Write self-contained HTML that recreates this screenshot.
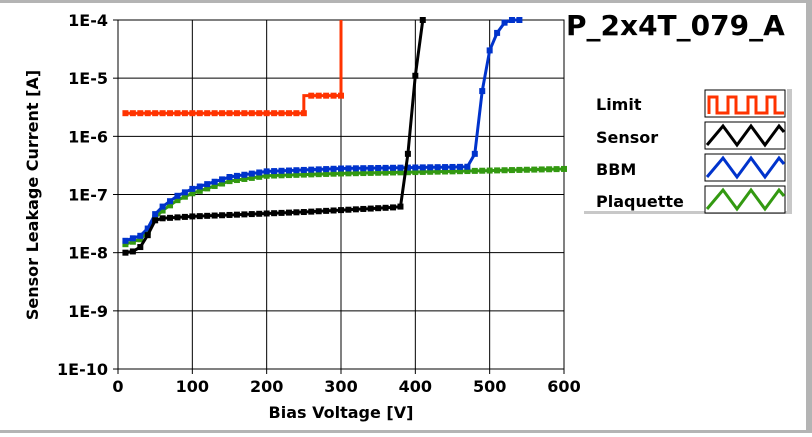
<!DOCTYPE html>
<html><head><meta charset="utf-8"><style>
body{margin:0;background:#fff;width:812px;height:433px;overflow:hidden;font-family:"DejaVu Sans",sans-serif}
</style></head><body>
<svg id="s" width="812" height="433" xmlns="http://www.w3.org/2000/svg" font-family="DejaVu Sans, sans-serif" font-weight="bold">
<rect x="0" y="0" width="812" height="433" fill="#fff"/>
<rect x="0" y="0" width="812" height="3" fill="#b4b4b4"/>
<rect x="0" y="430" width="812" height="3" fill="#b4b4b4"/>
<rect x="806" y="0" width="6" height="433" fill="#b4b4b4"/>
<rect x="118" y="20" width="446" height="349" fill="#fff" stroke="#000" stroke-width="1"/>
<g id="grid" stroke="#000" stroke-width="1"></g>
<g id="lbl" font-size="16" fill="#000"></g>
<g id="data"></g>
<text x="341" y="418" font-size="16" text-anchor="middle">Bias Voltage [V]</text>
<text transform="translate(38,195) rotate(-90)" font-size="16" text-anchor="middle">Sensor Leakage Current [A]</text>
<text x="566" y="35" font-size="28">P_2x4T_079_A</text>
<rect x="787" y="89" width="5" height="125" fill="#c8c8c8"/>
<rect x="584" y="211" width="204" height="3" fill="#c8c8c8"/>
<g font-size="16">
<text x="596" y="110">Limit</text>
<text x="596" y="143">Sensor</text>
<text x="596" y="175">BBM</text>
<text x="596" y="207">Plaquette</text>
</g>
<g stroke-width="3" fill="none">
<rect x="705" y="90" width="80" height="27" fill="#fff" stroke="#000" stroke-width="1"/>
<path d="M709,114V97H717V113H728V97H736V113H748V97H756V113H767V97H775V113H784" stroke="#ff3300"/>
<rect x="705" y="122" width="80" height="27" fill="#fff" stroke="#000" stroke-width="1"/>
<path d="M707,145L723,126L737,145L751,126L765,145L779,126L784,132" stroke="#000"/>
<rect x="705" y="154" width="80" height="27" fill="#fff" stroke="#000" stroke-width="1"/>
<path d="M707,177L723,158L737,177L751,158L765,177L779,158L784,164" stroke="#0033cc"/>
<rect x="705" y="186" width="80" height="27" fill="#fff" stroke="#000" stroke-width="1"/>
<path d="M707,209L723,190L737,209L751,190L765,209L779,190L784,196" stroke="#339911"/>
</g>
</svg>
<script>
var X=v=>118+v*446/600, Y=i=>20+58.17*(-4-Math.log10(i));
var g=document.getElementById('grid'),l=document.getElementById('lbl'),d=document.getElementById('data'),ns='http://www.w3.org/2000/svg';
function el(p,t,a){var e=document.createElementNS(ns,t);for(var k in a)e.setAttribute(k,a[k]);p.appendChild(e);return e}
for(var v=0;v<=600;v+=100){var x=X(v);if(v>0&&v<600)el(g,'line',{x1:x,x2:x,y1:20,y2:369});el(g,'line',{x1:x,x2:x,y1:369,y2:374});el(l,'text',{x:x,y:392,'text-anchor':'middle'}).textContent=v;}
for(var e=-10;e<=-4;e++){var y=Y(Math.pow(10,e));if(e>-10&&e<-4)el(g,'line',{x1:118,x2:564,y1:y,y2:y});el(g,'line',{x1:113,x2:118,y1:y,y2:y});el(l,'text',{x:108,y:y+6,'text-anchor':'end'}).textContent='1E'+e;}
function interp(pts,v){for(var k=0;k<pts.length-1;k++){if(v>=pts[k][0]&&v<=pts[k+1][0]){var t=(v-pts[k][0])/(pts[k+1][0]-pts[k][0]);return Math.pow(10,Math.log10(pts[k][1])*(1-t)+Math.log10(pts[k+1][1])*t)}}return null}
function series(pts,col,step,vmax){var pp=[];for(var v=10;v<=vmax;v+=step){var i=interp(pts,v);if(i==null||i>1e-4)continue;pp.push([X(v),Y(i)]);}
var dd='M'+pp.map(p=>p[0].toFixed(1)+','+p[1].toFixed(1)).join('L');return {pp:pp,dd:dd};}
function draw(pts,col,vmax){var r=series(pts,col,10,vmax);el(d,'path',{d:r.dd,stroke:col,'stroke-width':3,fill:'none'});r.pp.forEach(p=>el(d,'rect',{x:p[0]-3,y:p[1]-3,width:6,height:6,fill:col}));}
var lc='#ff3300';
var ly1=Y(2.5e-6),ly2=Y(5e-6);
el(d,'path',{d:'M'+X(10)+','+ly1+'H'+X(250)+'V'+ly2+'H'+X(300)+'V20',stroke:lc,'stroke-width':3,fill:'none'});
for(var v=10;v<=300;v+=10){var y=v<=250?ly1:ly2;el(d,'rect',{x:X(v)-3,y:y-3,width:6,height:6,fill:lc});}
draw([[10,1.4e-8],[30,1.7e-8],[40,2.3e-8],[50,4e-8],[60,5.3e-8],[80,8e-8],[100,1.05e-7],[150,1.7e-7],[200,2.1e-7],[300,2.3e-7],[450,2.5e-7],[600,2.75e-7]],'#339911',600);
draw([[10,1.6e-8],[30,1.95e-8],[40,2.6e-8],[50,4.6e-8],[60,6.2e-8],[80,9.5e-8],[100,1.25e-7],[150,2e-7],[200,2.5e-7],[300,2.8e-7],[470,3e-7],[480,5e-7],[490,6e-6],[500,3e-5],[510,6e-5],[520,9e-5],[530,1e-4],[540,1e-4]],'#0033cc',540);
draw([[10,1e-8],[20,1.05e-8],[30,1.25e-8],[40,2e-8],[50,3.6e-8],[60,3.9e-8],[100,4.2e-8],[250,5e-8],[370,6e-8],[380,6.2e-8],[390,5e-7],[400,1.1e-5],[410,1e-4]],'#000',410);
</script>
</body></html>
